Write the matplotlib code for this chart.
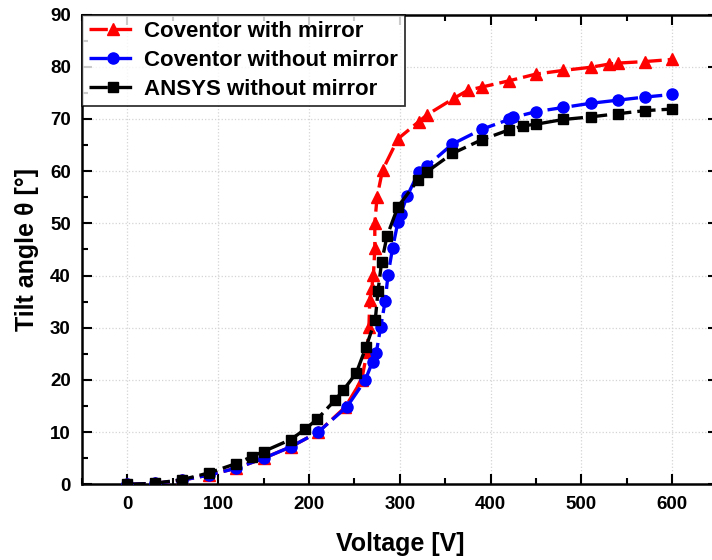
import matplotlib
matplotlib.use("Agg")
from matplotlib import pyplot as plt
from matplotlib.ticker import MultipleLocator

# data
red_v = [0, 30, 60, 90, 120, 150, 180, 210, 240, 258, 264, 266, 267, 269, 271,
         272.5, 272.5, 275, 281, 298, 321, 330, 360, 375, 390, 420, 450, 480,
         510, 530, 540, 570, 600]
red_t = [0, 0.2, 0.8, 1.8, 3.1, 5.0, 7.2, 10.0, 14.8, 20.0, 25.4, 30.2, 35.3, 37.6, 40.1,
         45.2, 50.0, 55.1, 60.2, 66.2, 69.5, 70.8, 74.0, 75.5, 76.1, 77.3, 78.6, 79.3,
         79.9, 80.5, 80.7, 81.0, 81.4]

blue_v = [0, 30, 60, 90, 120, 150, 180, 210, 242, 262, 270, 274, 279, 284, 287,
          292, 298, 301, 308, 321, 330, 358, 390, 420, 425, 450, 480, 510, 540, 570, 600]
blue_t = [0, 0.2, 0.8, 1.8, 3.1, 5.0, 7.2, 10.0, 14.9, 20.0, 23.5, 25.1, 30.2, 35.2, 40.1,
          45.2, 50.3, 51.8, 55.2, 59.9, 61.0, 65.2, 68.0, 69.9, 70.3, 71.4, 72.2, 73.0, 73.6, 74.2, 74.7]

black_v = [0, 30, 60, 90, 120, 137, 150, 180, 196, 209, 229, 238, 252, 263, 273,
           276, 280, 286, 298, 320, 330, 358, 390, 420, 436, 450, 480, 510, 540, 570, 600]
black_t = [0, 0.2, 0.9, 2.2, 4.0, 5.3, 6.3, 8.6, 10.6, 12.5, 16.2, 18.1, 21.3, 26.4, 31.5,
           37.0, 42.6, 47.6, 53.2, 58.3, 59.9, 63.4, 66.0, 67.9, 68.7, 69.0, 69.9, 70.4, 71.0, 71.6, 71.9]

labels = ["Coventor with mirror", "Coventor without mirror", "ANSYS without mirror"]

plt.rcParams['font.family'] = ['Liberation Sans', 'DejaVu Sans']
plt.rcParams['font.weight'] = 'bold'

fig = plt.figure(figsize=(7.12, 5.6), dpi=100)
ax = fig.add_axes([0.115, 0.135, 0.893, 0.839])

dash = (0, (5.5, 1.8))
ax.plot(red_v, red_t, color="#ff0000", marker="^", markersize=8.5, lw=2.4,
        linestyle=dash, label=labels[0], zorder=3)
ax.plot(blue_v, blue_t, color="#0000ff", marker="o", markersize=8, lw=2.4,
        linestyle=dash, label=labels[1], zorder=4)
ax.plot(black_v, black_t, color="black", marker="s", markersize=6.5, lw=2.4,
        linestyle=dash, label=labels[2], zorder=5)

ax.set_xlim(-50, 650)
ax.set_ylim(0, 90)
ax.xaxis.set_major_locator(MultipleLocator(100))
ax.xaxis.set_minor_locator(MultipleLocator(50))
ax.yaxis.set_major_locator(MultipleLocator(10))
ax.yaxis.set_minor_locator(MultipleLocator(5))
ax.tick_params(which="both", direction="in", top=True, right=True, width=1.5,
               labelsize=13.5)
ax.tick_params(which="major", length=7, pad=8)
ax.tick_params(which="minor", length=4)
for s in ax.spines.values():
    s.set_linewidth(1.8)

ax.grid(True, which="major", color="#d4d4d4", linestyle=":", linewidth=0.9)
ax.set_axisbelow(True)

ax.set_xlabel("Voltage [V]", fontsize=18, fontweight="bold", labelpad=14)
ax.set_ylabel("Tilt angle θ [°]", fontsize=18, fontweight="bold", labelpad=8)

leg = ax.legend(loc="upper left", bbox_to_anchor=(0.0, 1.0), fontsize=16,
                frameon=True, fancybox=False, edgecolor="black",
                handlelength=2.2, handletextpad=0.3, borderpad=0.3,
                labelspacing=0.35, borderaxespad=0.0)
leg.get_frame().set_linewidth(1.3)

fig.savefig("out.png", dpi=100)
